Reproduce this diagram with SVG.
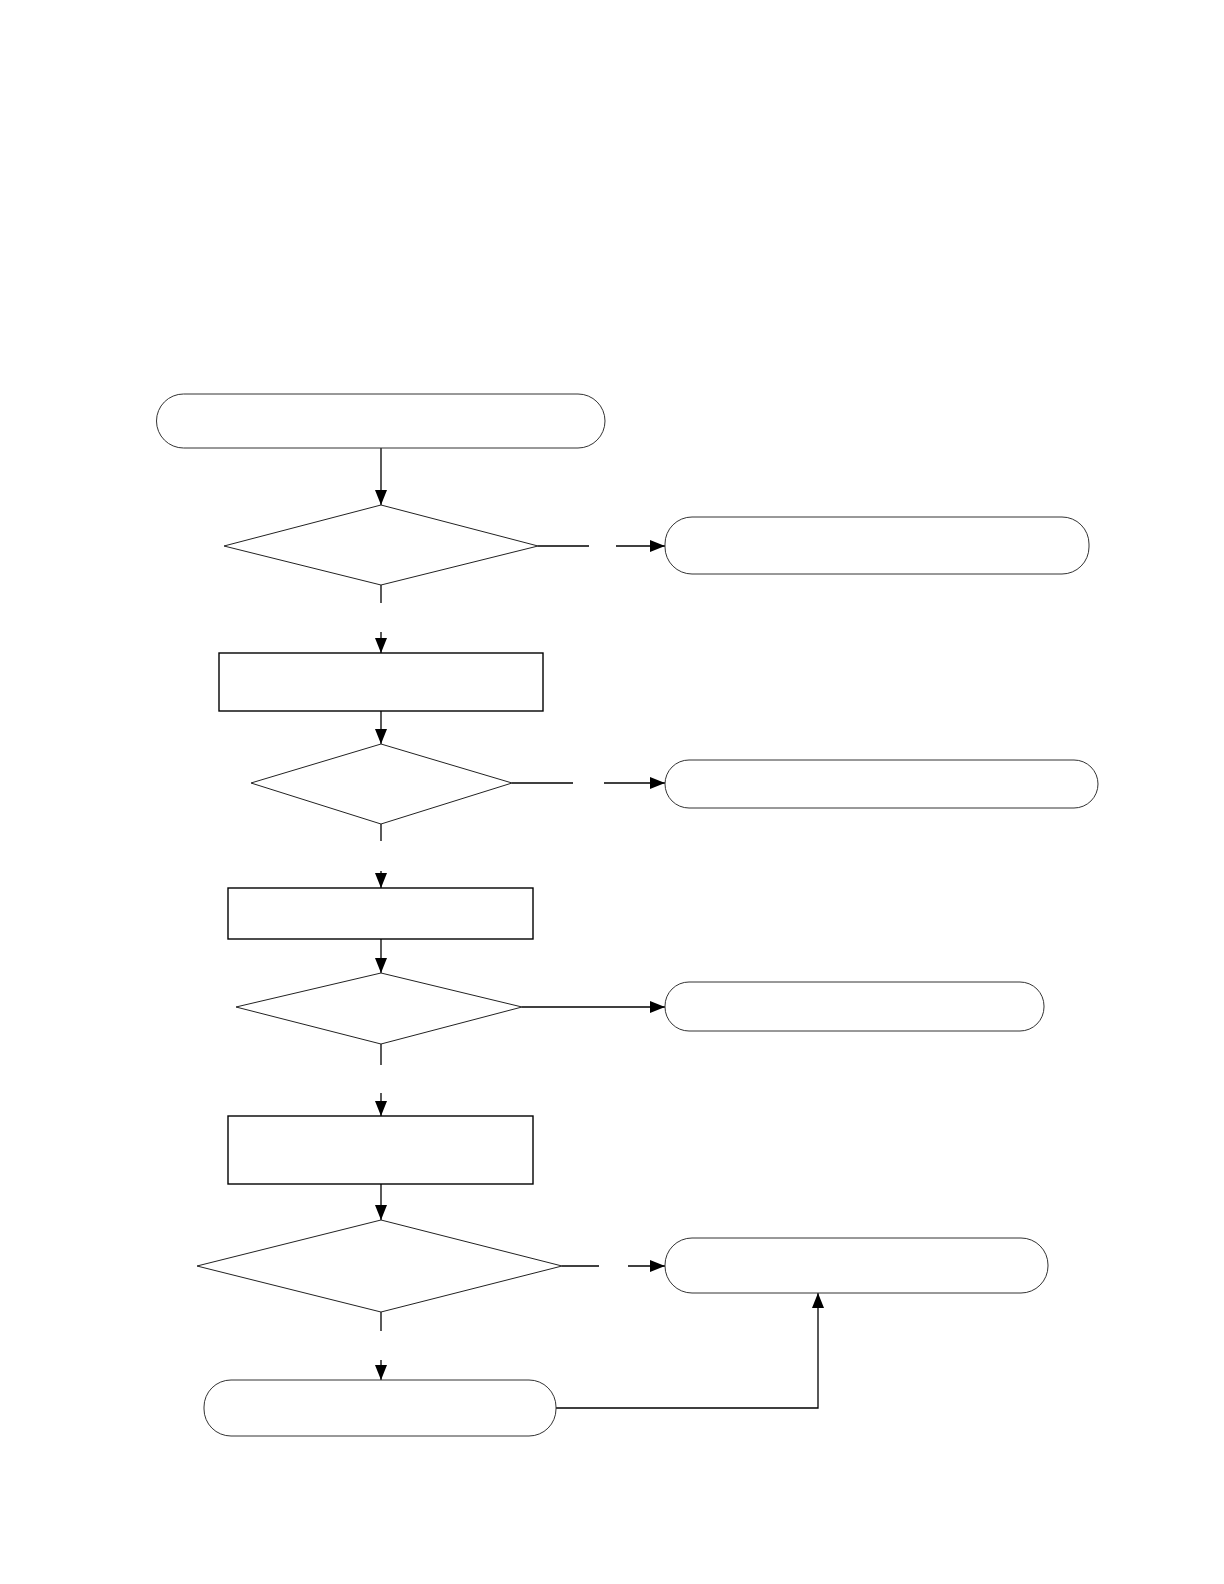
<svg xmlns="http://www.w3.org/2000/svg" width="1224" height="1584" viewBox="0 0 1224 1584">
<style>
.term{fill:#fff;stroke:#333;stroke-width:1}
.proc{fill:#fff;stroke:#000;stroke-width:1.4}
.dec{fill:#fff;stroke:#222;stroke-width:1}
.conn{fill:none;stroke:#000;stroke-width:1.3}
</style>
<defs>
<marker id="ah" markerUnits="userSpaceOnUse" markerWidth="16" markerHeight="13" refX="15" refY="6" orient="auto">
<path d="M0,0 L15,6 L0,12 z" fill="#000"/>
</marker>
</defs>
<rect width="1224" height="1584" fill="#fff"/>
<g id="connectors">
<line class="conn" x1="381" y1="448" x2="381" y2="505" marker-end="url(#ah)"/>
<line class="conn" x1="538" y1="546" x2="589" y2="546"/>
<line class="conn" x1="616" y1="546" x2="665" y2="546" marker-end="url(#ah)"/>
<line class="conn" x1="381" y1="585" x2="381" y2="603"/>
<line class="conn" x1="381" y1="632" x2="381" y2="653" marker-end="url(#ah)"/>
<line class="conn" x1="381" y1="711" x2="381" y2="744" marker-end="url(#ah)"/>
<line class="conn" x1="512" y1="783" x2="573" y2="783"/>
<line class="conn" x1="604" y1="783" x2="665" y2="783" marker-end="url(#ah)"/>
<line class="conn" x1="381" y1="824" x2="381" y2="841"/>
<line class="conn" x1="381" y1="871" x2="381" y2="888" marker-end="url(#ah)"/>
<line class="conn" x1="381" y1="939" x2="381" y2="973" marker-end="url(#ah)"/>
<line class="conn" x1="522" y1="1007" x2="665" y2="1007" marker-end="url(#ah)"/>
<line class="conn" x1="381" y1="1044" x2="381" y2="1065"/>
<line class="conn" x1="381" y1="1093" x2="381" y2="1116" marker-end="url(#ah)"/>
<line class="conn" x1="381" y1="1184" x2="381" y2="1220" marker-end="url(#ah)"/>
<line class="conn" x1="562" y1="1266" x2="599" y2="1266"/>
<line class="conn" x1="628" y1="1266" x2="665" y2="1266" marker-end="url(#ah)"/>
<line class="conn" x1="381" y1="1312" x2="381" y2="1331"/>
<line class="conn" x1="381" y1="1360" x2="381" y2="1380" marker-end="url(#ah)"/>
<polyline class="conn" points="556,1408 818,1408 818,1293" marker-end="url(#ah)"/>
</g>
<g id="start"><rect class="term" x="156.5" y="394" width="448.5" height="54" rx="27" ry="27"/></g>
<g id="decision1"><polygon class="dec" points="381,505 538,546 381,585 224,546"/></g>
<g id="end1"><rect class="term" x="665" y="517" width="424" height="57" rx="27" ry="27"/></g>
<g id="process1"><rect class="proc" x="219" y="653" width="324" height="58"/></g>
<g id="decision2"><polygon class="dec" points="381,744 512,783 381,824 251,783"/></g>
<g id="end2"><rect class="term" x="665" y="760" width="433" height="48" rx="24" ry="24"/></g>
<g id="process2"><rect class="proc" x="228" y="888" width="305" height="51"/></g>
<g id="decision3"><polygon class="dec" points="381,973 522,1007 381,1044 236,1007"/></g>
<g id="end3"><rect class="term" x="665" y="982" width="379" height="49" rx="24" ry="24"/></g>
<g id="process3"><rect class="proc" x="228" y="1116" width="305" height="68"/></g>
<g id="decision4"><polygon class="dec" points="381,1220 562,1266 381,1312 197,1266"/></g>
<g id="end4"><rect class="term" x="665" y="1238" width="383" height="55" rx="27" ry="27"/></g>
<g id="end5"><rect class="term" x="204" y="1380" width="352" height="56" rx="27" ry="27"/></g>
</svg>
